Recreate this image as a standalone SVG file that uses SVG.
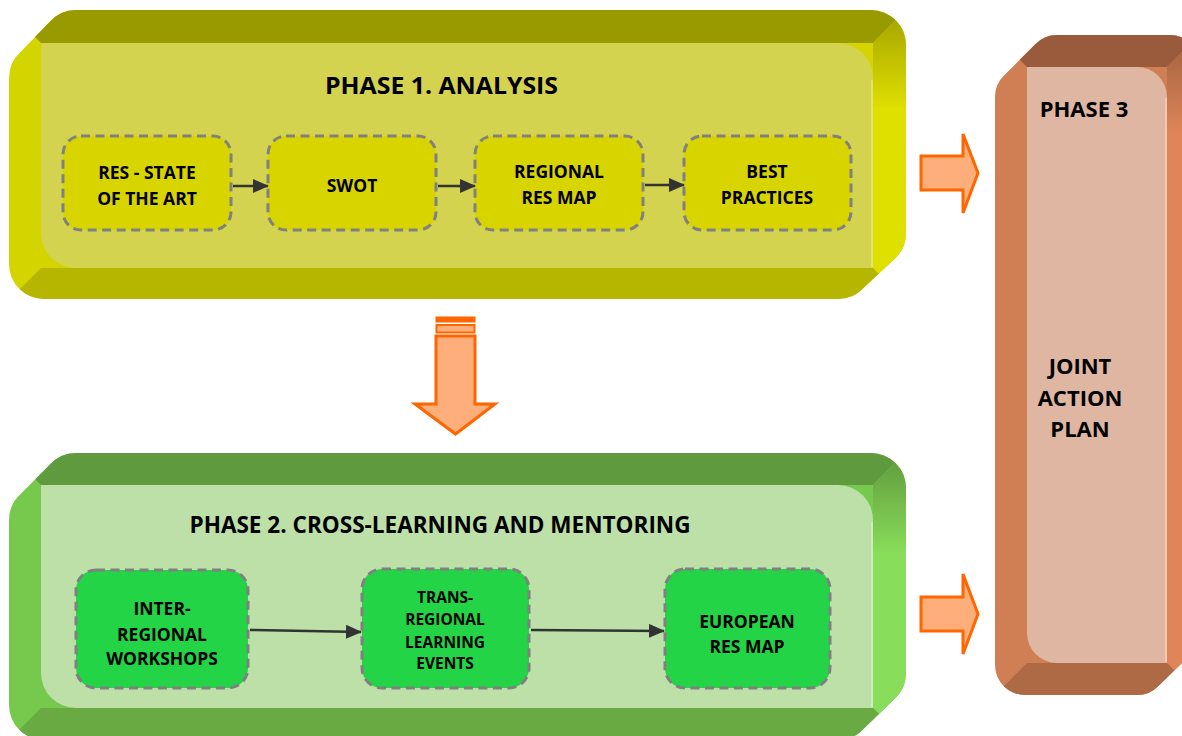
<svg xmlns="http://www.w3.org/2000/svg" width="1182" height="736" viewBox="0 0 1182 736">
<style>
.t{font-family:"Open Sans","Liberation Sans",sans-serif;font-weight:bold;fill:#000;text-anchor:middle}
.h{font-size:24px}
.n{font-size:17.5px}
.s{font-size:15.5px}
.p3{font-size:22px}
.node1{fill:#d8d400;stroke:#808080;stroke-width:3;stroke-dasharray:9 5.5}
.node2{fill:#22d446;stroke:#808080;stroke-width:3;stroke-dasharray:9 5.5}
.conn{stroke:#333;stroke-width:2.5;fill:none;marker-end:url(#ah)}
.blk{fill:#fdae7b;stroke:#ff6600;stroke-width:3;stroke-linejoin:miter}
</style>
<defs>
<marker id="ah" markerUnits="userSpaceOnUse" markerWidth="16" markerHeight="14" viewBox="0 0 16 14" refX="15" refY="7" orient="auto">
<path d="M0,0 L16,7 L0,14 Z" fill="#333"/>
</marker>
<clipPath id="c1">
<rect x="41" y="10" width="865" height="258" rx="35"/>
<rect x="9" y="43" width="864" height="256" rx="35"/>
<polygon points="51.3,20.3 19.3,53.3 44,78 76,45"/>
<polygon points="895.7,257.7 862.7,288.7 838,264 871,233"/>
</clipPath>
<clipPath id="c2">
<rect x="41" y="453" width="865" height="255" rx="35"/>
<rect x="9" y="485" width="864" height="255" rx="35"/>
<polygon points="51.3,463.3 19.3,495.3 44,520 76,488"/>
<polygon points="895.7,697.7 862.7,729.7 838,705 871,673"/>
</clipPath>
<clipPath id="c3">
<rect x="1027" y="35" width="173" height="628" rx="30"/>
<rect x="995" y="67" width="172" height="628" rx="30"/>
<polygon points="1035.8,43.8 1003.8,75.8 1025,97 1057,65"/>
<polygon points="1191.2,654.2 1158.2,686.2 1137,665 1170,633"/>
</clipPath>
<linearGradient id="g1" gradientUnits="userSpaceOnUse" x1="0" y1="20" x2="0" y2="110">
<stop offset="0" stop-color="#a8a800"/><stop offset="1" stop-color="#e0e000"/>
</linearGradient>
<linearGradient id="g2" gradientUnits="userSpaceOnUse" x1="0" y1="463" x2="0" y2="553">
<stop offset="0" stop-color="#64a040"/><stop offset="1" stop-color="#88dd5a"/>
</linearGradient>
<linearGradient id="g3" gradientUnits="userSpaceOnUse" x1="0" y1="45" x2="0" y2="135">
<stop offset="0" stop-color="#a5643f"/><stop offset="1" stop-color="#e0855a"/>
</linearGradient>
</defs>
<rect width="1182" height="736" fill="#fff"/>

<g id="phase1">
<g clip-path="url(#c1)">
<rect x="0" y="0" width="1000" height="320" fill="#d4d400"/>
<polygon points="41,43 -12,-10 926,-10 873,43" fill="#999900"/>
<polygon points="873,43 926,-10 1000,-10 1000,330 935,330 873,268" fill="url(#g1)"/>
<polygon points="41,268 -21,330 935,330 873,268" fill="#b6b600"/>
</g>
<path d="M41,43 L838,43 A35,35 0 0 1 873,78 L873,268 L76,268 A35,35 0 0 1 41,233 Z" fill="#d3d34f"/>
<line x1="872" y1="80" x2="872" y2="267" stroke="#e4e46a" stroke-width="2"/>
<text class="t h" x="441.5" y="94" textLength="233" lengthAdjust="spacingAndGlyphs">PHASE 1. ANALYSIS</text>
</g>

<g id="phase2">
<g clip-path="url(#c2)">
<rect x="0" y="440" width="1000" height="300" fill="#76c94c"/>
<polygon points="41,485 -12,432 926,432 873,485" fill="#5f9a3e"/>
<polygon points="873,485 926,432 1000,432 1000,790 955,790 873,708" fill="url(#g2)"/>
<polygon points="41,708 -41,790 955,790 873,708" fill="#69aa42"/>
</g>
<path d="M41,485 L838,485 A35,35 0 0 1 873,520 L873,708 L76,708 A35,35 0 0 1 41,673 Z" fill="#bde0a8"/>
<line x1="872" y1="522" x2="872" y2="707" stroke="#cdeebc" stroke-width="2"/>
<text class="t h" x="440" y="533" textLength="501" lengthAdjust="spacingAndGlyphs">PHASE 2. CROSS-LEARNING AND MENTORING</text>
</g>

<g id="phase3">
<g clip-path="url(#c3)">
<rect x="980" y="20" width="220" height="700" fill="#d07f55"/>
<polygon points="1027,67 990,30 1204,30 1167,67" fill="#9a5b3c"/>
<polygon points="1167,67 1204,30 1250,30 1250,740 1244,740 1167,663" fill="url(#g3)"/>
<polygon points="1027,663 950,740 1244,740 1167,663" fill="#ad6a45"/>
</g>
<path d="M1027,67 L1137,67 A30,30 0 0 1 1167,97 L1167,663 L1057,663 A30,30 0 0 1 1027,633 Z" fill="#deb6a2"/>
<line x1="1166" y1="98" x2="1166" y2="662" stroke="#f2c8b2" stroke-width="2"/>
<text class="t p3" x="1084" y="117">PHASE 3</text>
<text class="t p3" x="1080" y="374">JOINT</text>
<text class="t p3" x="1080" y="406">ACTION</text>
<text class="t p3" x="1080" y="437">PLAN</text>
</g>

<g id="n-res-state">
<rect class="node1" x="63" y="136" width="168" height="94" rx="18"/>
<text class="t n" x="147" y="179">RES - STATE</text>
<text class="t n" x="147" y="205">OF THE ART</text>
</g>
<g id="n-swot">
<rect class="node1" x="268" y="136" width="168" height="94" rx="18"/>
<text class="t n" x="352" y="192">SWOT</text>
</g>
<g id="n-regional-res-map">
<rect class="node1" x="475" y="136" width="168" height="94" rx="18"/>
<text class="t n" x="559" y="178">REGIONAL</text>
<text class="t n" x="559" y="204">RES MAP</text>
</g>
<g id="n-best-practices">
<rect class="node1" x="684" y="136" width="167" height="94" rx="18"/>
<text class="t n" x="767" y="178">BEST</text>
<text class="t n" x="767" y="204">PRACTICES</text>
</g>

<g id="n-inter-regional">
<rect class="node2" x="76" y="570" width="172" height="118" rx="20"/>
<text class="t n" x="162" y="615">INTER-</text>
<text class="t n" x="162" y="641">REGIONAL</text>
<text class="t n" x="162" y="665">WORKSHOPS</text>
</g>
<g id="n-trans-regional">
<rect class="node2" x="362" y="569" width="167" height="119" rx="20"/>
<text class="t s" x="445" y="603">TRANS-</text>
<text class="t s" x="445" y="625">REGIONAL</text>
<text class="t s" x="445" y="648">LEARNING</text>
<text class="t s" x="445" y="669">EVENTS</text>
</g>
<g id="n-european-res-map">
<rect class="node2" x="665" y="569" width="165" height="119" rx="20"/>
<text class="t n" x="747" y="628">EUROPEAN</text>
<text class="t n" x="747" y="653">RES MAP</text>
</g>

<g id="connectors">
<line class="conn" x1="233" y1="186" x2="268" y2="186"/>
<line class="conn" x1="438" y1="186" x2="475" y2="186"/>
<line class="conn" x1="645" y1="185" x2="684" y2="185"/>
<line class="conn" x1="250" y1="630" x2="361" y2="632"/>
<line class="conn" x1="531" y1="630" x2="664" y2="631"/>
<g id="arrow-down">
<rect x="435.5" y="316.5" width="40" height="6" fill="#ff6600"/>
<rect x="436.5" y="325" width="38" height="7.5" fill="#fdae7b" stroke="#ff6600" stroke-width="2"/>
<polygon class="blk" points="436,336 475,336 475,404 495,404 455.5,434 415,404 436,404"/>
</g>
<polygon id="arrow-right-1" class="blk" points="921,156 963,156 963,134 978,173 963,213 963,190 921,190"/>
<polygon id="arrow-right-2" class="blk" points="921,597 963,597 963,574 978,614 963,654 963,631 921,631"/>
</g>
</svg>
